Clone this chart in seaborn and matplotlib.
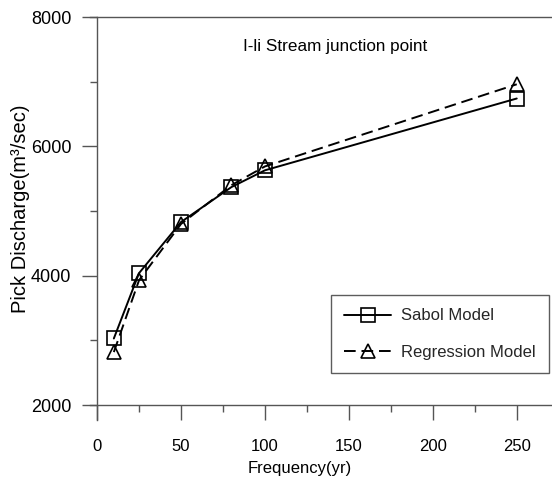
import matplotlib
matplotlib.use("Agg")
import matplotlib.pyplot as plt
import seaborn as sns
import pandas as pd
from matplotlib.ticker import MultipleLocator

# Data
frequency = [10, 25, 50, 80, 100, 250]
sabol = [3030, 4040, 4830, 5370, 5630, 6740]
regression = [2820, 3930, 4800, 5400, 5690, 6960]
series_names = ["Sabol Model", "Regression Model"]
title_text = "I-li Stream junction point"
x_label = "Frequency(yr)"
y_label = "Pick Discharge(m\u00b3/sec)"

df = pd.DataFrame({
    "freq": frequency * 2,
    "q": sabol + regression,
    "model": [series_names[0]] * len(frequency) + [series_names[1]] * len(frequency),
})

sns.set_theme(style="white")
plt.rcParams["font.family"] = ["Liberation Sans", "DejaVu Sans"]

fig = plt.figure(figsize=(5.52, 4.84), dpi=100)
ax = fig.add_axes([90 / 552, 1 - 420 / 484, (552 - 90) / 552, (420 - 17) / 484])

sns.lineplot(
    data=df, x="freq", y="q", hue="model", style="model",
    palette={series_names[0]: "black", series_names[1]: "black"},
    markers={series_names[0]: "s", series_names[1]: "^"},
    dashes={series_names[0]: "", series_names[1]: (6, 3)},
    markersize=9.5, linewidth=1.4, ax=ax, legend=False,
)
for line in ax.lines:
    line.set_markerfacecolor("none")
    line.set_markeredgecolor("black")
    line.set_markeredgewidth(1.2)

ax.set_xlim(-4.2, 271)
ax.set_ylim(1770, 8000)

spine_col = "#555555"
ax.spines["left"].set_position(("data", 0))
ax.spines["bottom"].set_position(("data", 2000))
ax.spines["right"].set_visible(False)
for s in ["left", "bottom", "top"]:
    ax.spines[s].set_color(spine_col)
    ax.spines[s].set_linewidth(1.0)

ax.xaxis.set_major_locator(MultipleLocator(50))
ax.xaxis.set_minor_locator(MultipleLocator(25))
ax.yaxis.set_major_locator(MultipleLocator(2000))
ax.yaxis.set_minor_locator(MultipleLocator(1000))
ax.set_yticks([2000, 4000, 6000, 8000])
ax.tick_params(axis="both", which="major", direction="out", length=10.5, width=1.0,
               color=spine_col, labelcolor="black")
ax.tick_params(axis="both", which="minor", direction="out", length=5, width=1.0,
               color=spine_col)
ax.tick_params(axis="x", which="major", pad=14, labelsize=12)
ax.tick_params(axis="y", which="major", pad=8, labelsize=13)
ax.tick_params(axis="x", which="both", bottom=True)
ax.tick_params(axis="y", which="both", left=True)

ax.set_xlabel(x_label, fontsize=12, color="black")
ax.set_ylabel(y_label, fontsize=14.5, color="black")
ax.xaxis.set_label_coords((300 - 90) / 462, -(461 - 420) / 403)
ax.yaxis.set_label_coords(-(90 - 30) / 462, (420 - 209) / 403)

ax.text((335 - 90) / 462, (420 - 47) / 403, title_text, transform=ax.transAxes,
        ha="center", va="center", fontsize=12.3, color="black")

handles = ax.lines[:2]
leg = ax.legend(handles, series_names, loc="upper right",
                bbox_to_anchor=((549 - 90) / 462, (420 - 295) / 403),
                frameon=True, fancybox=False, edgecolor="#333333",
                fontsize=12, handlelength=2.8, handletextpad=0.6,
                borderpad=0.8, labelspacing=1.3, borderaxespad=0)
leg.get_frame().set_linewidth(1.0)

fig.savefig("out.png", dpi=100)
